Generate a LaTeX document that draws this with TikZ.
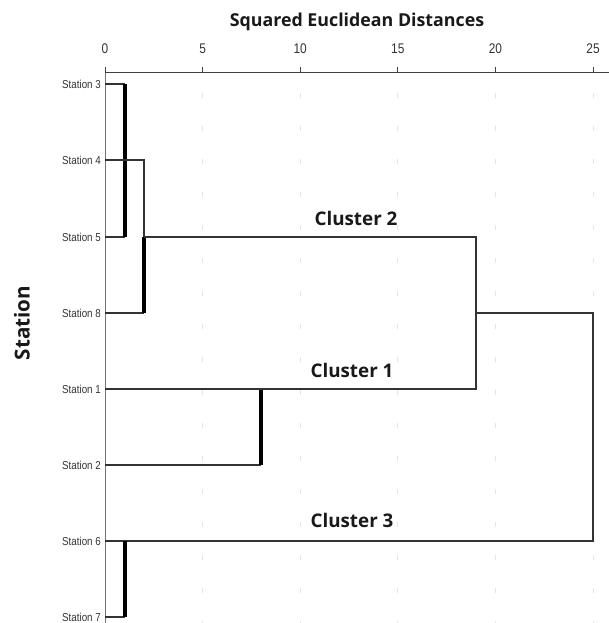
\documentclass[tikz,border=0pt]{standalone}
\usepackage{fontspec}
\setmainfont{Liberation Sans}
\newfontfamily\narrowsans[FakeStretch=0.85]{Liberation Sans}
\newfontfamily\segoe{Open Sans}
\begin{document}
\begin{tikzpicture}[x=1pt,y=-1pt]
	\tikzstyle{every node}+=[inner sep=0pt]
	\tikzset{
		leaf/.style={anchor=east,font=\narrowsans\fontsize{11.5}{13}\selectfont,text=black!80},
		ticklabel/.style={font=\narrowsans\fontsize{14}{16}\selectfont,text=black!80},
		branch/.style={black!80,line width=1.8pt},
		mergebar/.style={black,line width=3.2pt},
		clabel/.style={font=\segoe\bfseries\fontsize{18.8}{22}\selectfont,text=black!90},
		faint/.style={black!10,dash pattern=on 5pt off 28pt,line width=0.8pt}
	}
	\useasboundingbox (0,0) rectangle (609,623);
	% distance axis
	\node[font=\segoe\bfseries\fontsize{17.8}{21}\selectfont,text=black!90] (title) at (357,22) {Squared Euclidean Distances};
	\node[font=\segoe\bfseries\fontsize{20.6}{24}\selectfont,text=black!90,rotate=90] (ylab) at (22,323) {Station};
	\foreach \d in {0,5,...,25} {
		\coordinate (t\d) at (105+\d*19.52,73);
		\draw [black!75,line width=1pt] (t\d) -- ++(0,-6);
		\node[ticklabel] at (105+\d*19.52,49) {\d};
	}
	\foreach \d in {5,10,...,25}
		\draw [faint] (t\d) ++(0,20) -- ++(0,530);
	\draw [black!75,line width=1pt] (105,73) -- (609,73);
	\draw [black!55,line width=1pt] (105,73) -- (105,623);
	% leaves
	\foreach \s/\y in {3/84,4/160,5/237,8/313,1/389,2/465,6/541,7/617} {
		\node[leaf] (s\s) at (101,\y) {Station \s};
		\coordinate (l\s) at (105,\y);
	}
	% merge heights
	\coordinate (d1) at (125,0);
	\coordinate (d2) at (144,0);
	\coordinate (d8) at (261,0);
	\coordinate (d19) at (476,0);
	\coordinate (d25) at (593,0);
	% stations 3 and 5
	\draw [branch] (l3) -- (l3 -| d1);
	\draw [branch] (l5) -- (l5 -| d1);
	\draw [mergebar] (l3 -| d1) -- (l5 -| d1);
	% stations 4 and 8
	\draw [branch] (l4) -| (l5 -| d2);
	\draw [branch] (l8) -- (l8 -| d2);
	\draw [mergebar] (l5 -| d2) -- (l8 -| d2);
	% stations 1 and 2
	\draw [branch] (l2) -- (l2 -| d8);
	\draw [mergebar] (l1 -| d8) -- (l2 -| d8);
	% upper joins
	\draw [branch] (l5 -| d2) -| (l1 -| d19) -- (l1);
	\draw [branch] (l8 -| d19) -| (l6 -| d25) -- (l6);
	% stations 6 and 7
	\draw [branch] (l7) -- (l7 -| d1);
	\draw [mergebar] (l6 -| d1) -- (l7 -| d1);
	% cluster names
	\node[clabel] (c2) at (356,218) {Cluster 2};
	\node[clabel] (c1) at (352,370) {Cluster 1};
	\node[clabel] (c3) at (352,520) {Cluster 3};
\end{tikzpicture}
\end{document}
